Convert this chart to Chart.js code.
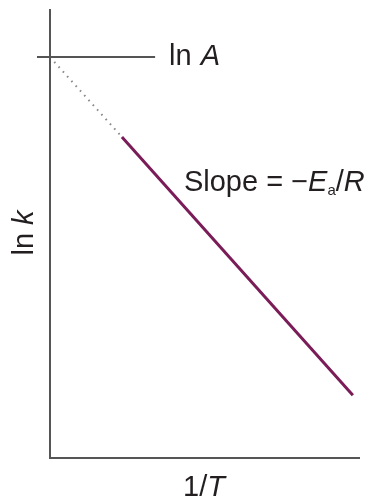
<!DOCTYPE html>
<html>
<head>
<meta charset="utf-8">
<script src="https://cdn.jsdelivr.net/npm/chart.js@4"></script>
<style>
  html, body { margin: 0; padding: 0; background: #fff; }
  canvas { display: block; }
</style>
</head>
<body>
<canvas id="arrhenius" width="370" height="502"></canvas>
<script>
// Arrhenius plot: ln k vs 1/T, intercept ln A, slope -Ea/R
const lnA = 8.93;
const lnALineX = [-0.42, 3.39];
const measuredX = [2.32, 9.77];
const measuredY = [7.15, 1.40];
const extrapX = [0, 2.32];
const extrapY = [lnA, 7.15];

const FONT = '"Liberation Sans", Arial, sans-serif';
const SIZE = '29px';
const TEXT = '#231f20';

function pts(xs, ys) {
  return xs.map((x, i) => ({ x: x, y: ys[i] }));
}

// write a run of [text, style, dy] pieces left to right
function run(ctx, pieces, x, y, measureOnly) {
  let w = 0;
  pieces.forEach(p => {
    ctx.font = p[1] + ' ' + FONT;
    if (!measureOnly) ctx.fillText(p[0], x + w, y + (p[2] || 0));
    w += ctx.measureText(p[0]).width + (p[3] || 0);
  });
  return w;
}

// axes and the text labels (mixed italic / subscript, so drawn by hand)
const axesAndLabels = {
  id: 'axesAndLabels',
  afterDatasetsDraw(chart) {
    const ctx = chart.ctx;
    const a = chart.chartArea;
    const xs = chart.scales.x, ys = chart.scales.y;
    ctx.save();
    ctx.strokeStyle = '#555';
    ctx.lineWidth = 2;
    ctx.beginPath();
    ctx.moveTo(a.left, a.top);
    ctx.lineTo(a.left, a.bottom);
    ctx.lineTo(a.right, a.bottom);
    ctx.stroke();

    ctx.fillStyle = TEXT;
    ctx.textBaseline = 'middle';
    ctx.textAlign = 'left';

    // ln A
    run(ctx, [['ln', SIZE, 0, 9], ['A', 'italic ' + SIZE]],
      xs.getPixelForValue(lnALineX[1]) + 14, ys.getPixelForValue(lnA));

    // Slope = -Ea/R
    run(ctx, [
      ['Slope = \u2212', SIZE],
      ['E', 'italic ' + SIZE],
      ['a', '15px', 8],
      ['/', SIZE],
      ['R', 'italic ' + SIZE]
    ], xs.getPixelForValue(4.32), ys.getPixelForValue(6.12));

    // 1/T
    const t = [['1/', SIZE], ['T', 'italic ' + SIZE]];
    const wt = run(ctx, t, 0, 0, true);
    run(ctx, t, (a.left + a.right) / 2 - wt / 2 - 1, a.bottom + 30);

    // ln k (rotated)
    const k = [['ln ', SIZE], ['k', 'italic ' + SIZE]];
    const wk = run(ctx, k, 0, 0, true);
    ctx.translate(25, 233);
    ctx.rotate(-Math.PI / 2);
    run(ctx, k, -wk / 2, 0);
    ctx.restore();
  }
};

new Chart(document.getElementById('arrhenius'), {
  type: 'scatter',
  data: {
    datasets: [
      {
        data: pts(lnALineX, [lnA, lnA]),
        showLine: true,
        borderColor: '#555',
        borderWidth: 2,
        pointRadius: 0,
        clip: false
      },
      {
        data: pts(extrapX, extrapY),
        showLine: true,
        borderColor: '#8a8a8a',
        borderWidth: 2,
        borderDash: [1.6, 4.8],
        pointRadius: 0,
        clip: false
      },
      {
        data: pts(measuredX, measuredY),
        showLine: true,
        borderColor: '#7a1c58',
        borderWidth: 3,
        pointRadius: 0,
        clip: false
      }
    ]
  },
  options: {
    responsive: false,
    animation: false,
    layout: { padding: { left: 50, right: 10, top: 9, bottom: 44 } },
    plugins: { legend: { display: false }, tooltip: { enabled: false } },
    scales: {
      x: { type: 'linear', min: 0, max: 10, display: false },
      y: { type: 'linear', min: 0, max: 10, display: false }
    }
  },
  plugins: [axesAndLabels]
});
</script>
</body>
</html>
